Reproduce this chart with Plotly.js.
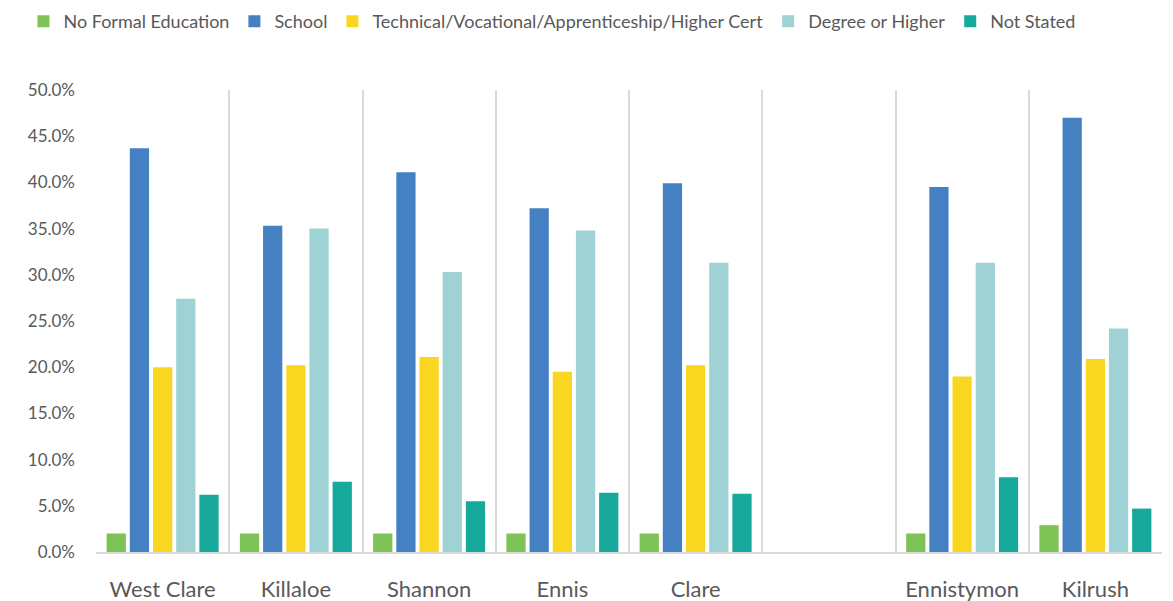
<!DOCTYPE html>
<html>
<head>
<meta charset="utf-8">
<script src="https://cdn.plot.ly/plotly-3.0.1.min.js"></script>
<style>
  html, body { margin: 0; padding: 0; background: #fff; }
  #EducationChart { width: 1173px; height: 601px; }
</style>
</head>
<body>
<div id="EducationChart"></div>
<script>
// areas (the blank one is an empty slot in the original chart)
const areas = ['West Clare', 'Killaloe', 'Shannon', 'Ennis', 'Clare', ' ', 'Ennistymon', 'Kilrush'];

const noFormal = [2.0, 2.0, 2.0, 2.0, 2.0, null, 2.0, 2.9];
const school = [43.7, 35.3, 41.1, 37.2, 39.9, null, 39.5, 47.0];
const technical = [20.0, 20.2, 21.1, 19.5, 20.2, null, 19.0, 20.9];
const degree = [27.4, 35.0, 30.3, 34.8, 31.3, null, 31.3, 24.2];
const notStated = [6.2, 7.6, 5.5, 6.4, 6.3, null, 8.1, 4.7];

const seriesNames = ['No Formal Education', 'School', 'Technical/Vocational/Apprenticeship/Higher Cert', 'Degree or Higher', 'Not Stated'];
const seriesColors = ['#7DC356', '#4580C2', '#F9D721', '#9ED2D5', '#16A99C'];

function drawEducationChart() {
    const values = [noFormal, school, technical, degree, notStated];

    const data = values.map((vals, i) => ({
        x: areas,
        y: vals,
        name: seriesNames[i],
        type: 'bar',
        marker: { color: seriesColors[i], line: { width: 0 } },
        hovertemplate: '%{x}: %{y:.1f}%<extra>' + seriesNames[i] + '</extra>'
    }));

    const layout = {
        font: { family: 'Lato, "Open Sans", sans-serif', color: '#595959' },
        barmode: 'group',
        bargap: 0.13,
        bargroupgap: 0.17,
        showlegend: true,
        legend: {
            orientation: 'h',
            xref: 'container', yref: 'container',
            x: 0.02, xanchor: 'left',
            y: 0.995, yanchor: 'top',
            font: { size: 18, color: '#595959' },
            bgcolor: 'rgba(0,0,0,0)',
            itemwidth: 30,
            traceorder: 'normal'
        },
        xaxis: {
            type: 'category',
            tickson: 'boundaries',
            showgrid: true,
            gridcolor: '#D9D9D9',
            gridwidth: 2,
            showline: true,
            linecolor: '#D9D9D9',
            linewidth: 2,
            ticks: '',
            ticklabelstandoff: 17,
            tickfont: { size: 22, color: '#595959' },
            fixedrange: true
        },
        yaxis: {
            range: [0, 50],
            dtick: 5,
            ticksuffix: '%',
            tickformat: '.1f',
            showgrid: false,
            zeroline: false,
            showline: false,
            ticks: '',
            ticklabelstandoff: 20,
            tickfont: { size: 17, color: '#595959' },
            fixedrange: true
        },
        margin: { l: 96, r: 11, t: 90, b: 49 },
        paper_bgcolor: '#ffffff',
        plot_bgcolor: '#ffffff'
    };

    Plotly.newPlot('EducationChart', data, layout, { displayModeBar: false });
}

drawEducationChart();
</script>
</body>
</html>
